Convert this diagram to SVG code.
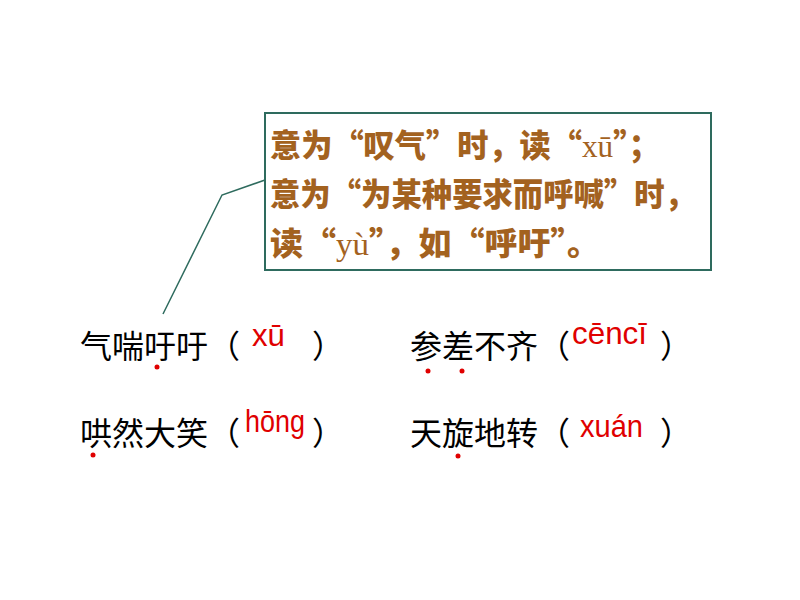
<svg xmlns="http://www.w3.org/2000/svg" width="800" height="600" viewBox="0 0 800 600">
<style>
.b{font-family:"Noto Sans CJK SC",sans-serif;font-weight:900;font-size:32px;fill:#A3621F}
.t{font-family:"Noto Sans CJK SC",sans-serif;font-size:32px;fill:#000}
.p{font-family:"Liberation Sans",sans-serif;font-size:32px;fill:#E00000}
.d{fill:#E00000}
</style>
<rect width="800" height="600" fill="#fff"/>
<g id="connectors"><polyline points="265,180 222,195 163,314" fill="none" stroke="#2E6B5E" stroke-width="1.5"/></g>
<g id="note">
<rect x="265" y="113" width="446" height="157" fill="#fff" stroke="#2E6B5E" stroke-width="2"/>
<text class="b" x="270" y="157" textLength="390" lengthAdjust="spacingAndGlyphs">意为“叹气”时，读“<tspan font-family="Liberation Serif" font-weight="normal">xū</tspan>”；</text>
<text class="b" x="270" y="206" textLength="425" lengthAdjust="spacingAndGlyphs">意为“为某种要求而呼喊”时，</text>
<text class="b" x="270" y="255" textLength="330" lengthAdjust="spacingAndGlyphs">读“<tspan font-family="Liberation Serif" font-weight="normal">yù</tspan>”，如“呼吁”。</text>
</g>
<g id="w1"><text class="t" x="80" y="358">气喘吁吁（</text><text class="p" x="252" y="346" textLength="33" lengthAdjust="spacingAndGlyphs">xū</text><text class="t" x="312" y="358">）</text><circle class="d" cx="157" cy="367" r="2.5"/></g>
<g id="w2"><text class="t" x="410" y="358">参差不齐（</text><text class="p" x="572" y="344" textLength="75" lengthAdjust="spacingAndGlyphs">cēncī</text><text class="t" x="660" y="358">）</text><circle class="d" cx="428" cy="371" r="2.5"/><circle class="d" cx="462" cy="371" r="2.5"/></g>
<g id="w3"><text class="t" x="80" y="445">哄然大笑（</text><text class="p" x="245" y="432" textLength="60" lengthAdjust="spacingAndGlyphs">hōng</text><text class="t" x="312" y="445">）</text><circle class="d" cx="93" cy="455" r="2.5"/></g>
<g id="w4"><text class="t" x="410" y="445">天旋地转（</text><text class="p" x="580" y="437" textLength="63" lengthAdjust="spacingAndGlyphs">xuán</text><text class="t" x="660" y="445">）</text><circle class="d" cx="458" cy="456" r="2.5"/></g>
</svg>
